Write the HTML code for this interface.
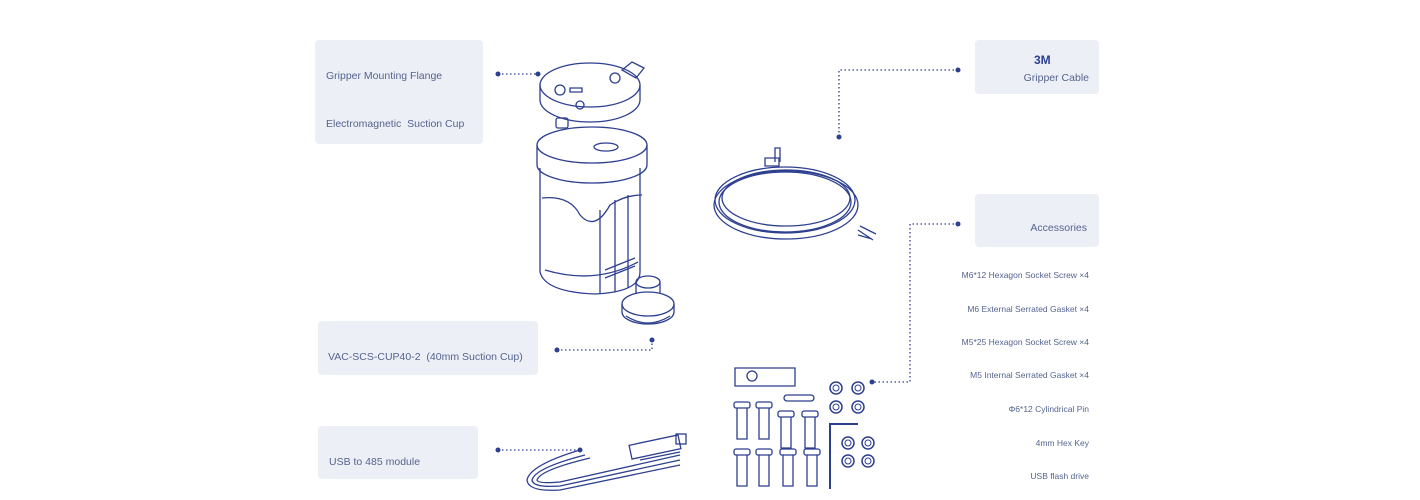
<!DOCTYPE html>
<html><head><meta charset="utf-8"><style>
body{margin:0;background:#fff;width:1420px;height:500px;overflow:hidden;font-family:"Liberation Sans",sans-serif}
.b{position:absolute;background:#eceff6;border-radius:4px}
.t{position:absolute;color:#56648f;font-size:10.5px;white-space:nowrap}
.rt{position:absolute;color:#56648f;font-size:10.5px;white-space:nowrap;text-align:right}
.r{position:absolute;color:#56648f;font-size:8.5px;right:331px;white-space:nowrap}
</style></head><body>
<div class="b" style="left:315px;top:40px;width:168px;height:104px"></div>
<div class="b" style="left:975px;top:40px;width:124px;height:54px"></div>
<div class="b" style="left:975px;top:194px;width:124px;height:53px"></div>
<div class="b" style="left:318px;top:321px;width:220px;height:54px"></div>
<div class="b" style="left:318px;top:426px;width:160px;height:53px"></div>
<div class="t" style="left:326px;top:70px">Gripper Mounting Flange</div>
<div class="t" style="left:326px;top:118px">Electromagnetic&nbsp; Suction Cup</div>
<div class="t" style="left:1034px;top:53px;font-weight:bold;font-size:12px;color:#2d3f8f">3M</div>
<div class="rt" style="right:331px;top:72px">Gripper Cable</div>
<div class="rt" style="right:333px;top:222px">Accessories</div>
<div class="t" style="left:328px;top:351px">VAC-SCS-CUP40-2&nbsp; (40mm Suction Cup)</div>
<div class="t" style="left:329px;top:456px">USB to 485 module</div>
<div class="r" style="top:270px">M6*12 Hexagon Socket Screw ×4</div>
<div class="r" style="top:304px">M6 External Serrated Gasket ×4</div>
<div class="r" style="top:337px">M5*25 Hexagon Socket Screw ×4</div>
<div class="r" style="top:370px">M5 Internal Serrated Gasket ×4</div>
<div class="r" style="top:404px">Φ6*12 Cylindrical Pin</div>
<div class="r" style="top:438px">4mm Hex Key</div>
<div class="r" style="top:471px">USB flash drive</div>
<svg width="1420" height="500" style="position:absolute;left:0;top:0" fill="none" stroke="#2d3f8f" stroke-width="1.3">
<g stroke-dasharray="1.5 2.5">
<path d="M498 74H538"/><path d="M958 70H839V137"/><path d="M958 224H910V382H872"/><path d="M557 350H652V340"/><path d="M498 450H580"/>
</g>
<g fill="#2d3f8f" stroke="none">
<circle cx="498" cy="74" r="2.5"/><circle cx="538" cy="74" r="2.5"/><circle cx="958" cy="70" r="2.5"/><circle cx="839" cy="137" r="2.5"/><circle cx="958" cy="224" r="2.5"/><circle cx="872" cy="382" r="2.5"/><circle cx="557" cy="350" r="2.5"/><circle cx="652" cy="340" r="2.5"/><circle cx="498" cy="450" r="2.5"/><circle cx="580" cy="450" r="2.5"/>
</g>
<!-- gripper -->
<ellipse cx="590" cy="85" rx="50" ry="22"/><path d="M540 85V100A50 22 0 0 0 640 100V85"/>
<path d="M622 70l10-8 12 6-8 10z"/><circle cx="580" cy="105" r="4"/><circle cx="615" cy="78" r="5"/><circle cx="560" cy="90" r="5"/><path d="M570 88h12v4h-12z"/>
<rect x="556" y="118" width="12" height="10" rx="2"/>
<ellipse cx="592" cy="145" rx="55" ry="18"/><path d="M537 145V165A55 18 0 0 0 647 165V145"/><ellipse cx="606" cy="147" rx="12" ry="4"/>
<path d="M540 168V272Q545 292 595 294Q640 292 640 272V168"/><path d="M542 198Q570 195 580 215Q595 232 610 205Q625 195 642 195"/>
<path d="M600 210V294M615 200V292M628 195V288"/><path d="M545 270Q595 285 638 262"/><path d="M605 270l30-12M605 278l30-12"/>
<!-- suction cup -->
<ellipse cx="648" cy="304" rx="26" ry="12"/><path d="M622 304V312A26 12 0 0 0 674 312V304"/><path d="M626 316Q648 330 670 316"/>
<ellipse cx="648" cy="282" rx="12" ry="6"/><path d="M636 282V294M660 282V294"/>
<!-- cable coil -->
<ellipse cx="785" cy="200" rx="70" ry="33"/><ellipse cx="785" cy="202" rx="66" ry="30"/><ellipse cx="786" cy="205" rx="72" ry="34"/><ellipse cx="786" cy="198" rx="64" ry="28"/>
<path d="M775 162V148h5v14"/><path d="M765 158h14v8h-14z"/><path d="M858 230l15 10M860 226l16 8M858 235l14 4"/>
<!-- usb module -->
<path d="M580 450Q530 465 527 480Q528 492 560 490L680 465"/><path d="M585 455Q535 468 532 480Q533 488 560 486L680 460"/><path d="M590 458Q540 470 537 480Q538 484 560 482L680 455"/>
<rect x="630" y="440" width="50" height="14" transform="rotate(-12 655 447)"/><path d="M640 460l40-8"/><rect x="676" y="434" width="10" height="10"/>
<!-- accessories -->
<path d="M735 368h60v18h-60z"/><circle cx="752" cy="376" r="5"/>
<rect x="784" y="395" width="30" height="6" rx="3"/>
<g id="s"><rect x="734" y="402" width="16" height="6" rx="2"/><path d="M737 408v31h10v-31"/></g>
<use href="#s" x="22"/><use href="#s" x="44" y="9"/><use href="#s" x="68" y="9"/>
<use href="#s" y="47"/><use href="#s" x="22" y="47"/><use href="#s" x="46" y="47"/><use href="#s" x="70" y="47"/>
<path d="M830 489V424h28" stroke-width="2"/>
<g stroke-width="1.5"><circle cx="836" cy="388" r="6"/><circle cx="858" cy="388" r="6"/><circle cx="836" cy="407" r="6"/><circle cx="858" cy="407" r="6"/>
<circle cx="848" cy="443" r="6"/><circle cx="868" cy="443" r="6"/><circle cx="848" cy="461" r="6"/><circle cx="868" cy="461" r="6"/></g>
<g stroke-width="1"><circle cx="836" cy="388" r="3"/><circle cx="858" cy="388" r="3"/><circle cx="836" cy="407" r="3"/><circle cx="858" cy="407" r="3"/>
<circle cx="848" cy="443" r="3"/><circle cx="868" cy="443" r="3"/><circle cx="848" cy="461" r="3"/><circle cx="868" cy="461" r="3"/></g>
</svg>
</body></html>
